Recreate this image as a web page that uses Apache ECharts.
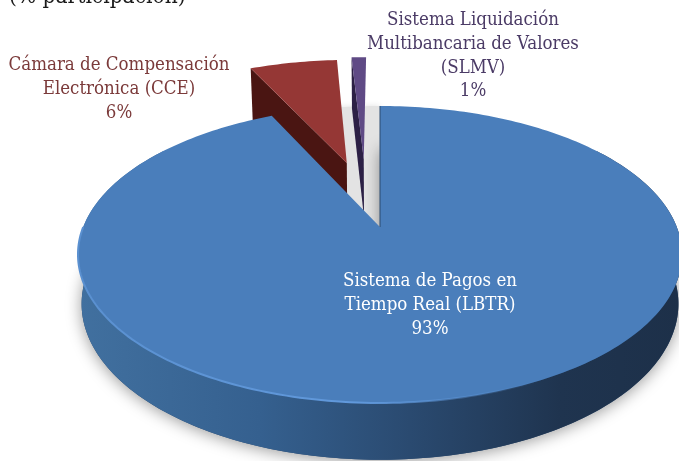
<!DOCTYPE html>
<html>
<head>
<meta charset="utf-8">
<script src="https://cdn.jsdelivr.net/npm/echarts@6/dist/echarts.min.js"></script>
<style>
html, body { margin: 0; background: #fff; }
#chart { width: 679px; height: 461px; }
</style>
</head>
<body>
<div id="chart"></div>
<script>
const titleText = '(% participación)'
const sliceNames = ['Sistema de Pagos en\nTiempo Real (LBTR)', 'Cámara de Compensación\nElectrónica (CCE)', 'Sistema Liquidación\nMultibancaria de Valores\n(SLMV)']
const sliceValues = [93, 6, 1]

// slice styles, same order as the values
const faceColors = ['#4a7ebb', '#953735', '#5f4a85']
const wallColors = ['#2a4a70', '#4a1512', '#2c2045']
const labelColors = ['#ffffff', '#7b3a3a', '#4b3b66']
const labelPos = [[430, 281], [119, 65], [473, 20]]
const explode = [[0, 0], [-0.122, 0.486], [-0.06, 0.517]]
const FONT = '18.5px "DejaVu Serif Condensed", "Liberation Serif", serif'

// perspective of the disc: apex on screen, then disc (u,v,z) to pixels
const cx = 380, cy = 227
const persp = 0.185, scaleX = 296.8, scaleY = 143.4
const project = (u, v, z) => {
  const w = 1 + persp * v
  const sx = scaleX * u / w * (1 - 0.012 * z)
  const sy = -scaleY * v / w * (1 + 0.05 * z) + 48 * z
  return [cx + sx, cy + sy]
}
const rimPoints = (a0, a1, off, z) => {
  const n = Math.max(2, Math.ceil((a1 - a0) / 0.02))
  const pts = []
  for (let i = 0; i <= n; i++) {
    const a = a0 + (a1 - a0) * i / n
    pts.push(project(Math.sin(a) + off[0], Math.cos(a) + off[1], z))
  }
  return pts
}
const sector = (a0, a1, off, z) => [project(off[0], off[1], z), ...rimPoints(a0, a1, off, z)]

const total = sliceValues.reduce((s, v) => s + v, 0)
const startOf = i => sliceValues.slice(0, i).reduce((s, v) => s + v, 0) / total * Math.PI * 2

const poly = (points, style, z2) => ({ type: 'polygon', shape: { points }, style, z2 })

const renderItem = (params, api) => {
  const i = params.dataIndex
  const a0 = startOf(i)
  const a1 = a0 + api.value(0) / total * Math.PI * 2
  const off = explode[i]
  const children = []

  if (i === 0) {
    const sideFill = {
      type: 'linear', x: 80, y: 0, x2: 680, y2: 0, global: true,
      colorStops: [
        { offset: 0, color: '#41709f' },
        { offset: 0.3, color: '#35608f' },
        { offset: 0.55, color: '#2a4a70' },
        { offset: 0.8, color: '#1f344f' },
        { offset: 1, color: '#1d3049' }
      ]
    }
    const rimFill = {
      type: 'linear', x: 78, y: 0, x2: 540, y2: 0, global: true,
      colorStops: [
        { offset: 0, color: '#5a90d0' },
        { offset: 0.6, color: '#6199dc' },
        { offset: 1, color: 'rgba(97,153,220,0)' }
      ]
    }
    // grey gap left behind by the pulled out slices
    children.push(poly(sector(a1, Math.PI * 2, [0, 0], 0), { fill: '#e3e3e3', shadowBlur: 6, shadowColor: 'rgba(0,0,0,0.12)' }, 0))
    // base with soft ground shadow
    children.push(poly(sector(a0, a1, off, 1), { fill: '#2a4a70', shadowBlur: 16, shadowColor: 'rgba(0,0,0,0.4)', shadowOffsetY: 2 }, 1))
    const front = rimPoints(Math.PI * 0.3, Math.PI * 1.7, off, 0)
    const back = rimPoints(Math.PI * 0.3, Math.PI * 1.7, off, 1).reverse()
    children.push(poly([...front, ...back], { fill: sideFill }, 2))
    children.push(poly(sector(a0, a1, off, 0), { fill: faceColors[i] }, 6))
    // light rim along the front edge
    children.push({
      type: 'polyline',
      shape: { points: rimPoints(Math.PI * 0.85, Math.PI * 1.5, off, 0) },
      style: { fill: null, stroke: rimFill, lineWidth: 2 },
      z2: 7
    })
    children.push({
      type: 'polyline',
      shape: { points: [project(0, 0, 0), project(0, 1, 0)] },
      style: { fill: null, stroke: wallColors[i], lineWidth: 1 },
      z2: 7
    })
  } else {
    // left cut wall, then the face
    const wallDepth = 1.3
    const wall = [project(off[0], off[1], 0), project(off[0], off[1], wallDepth),
      project(Math.sin(a0) + off[0], Math.cos(a0) + off[1], wallDepth), project(Math.sin(a0) + off[0], Math.cos(a0) + off[1], 0)]
    children.push(poly(wall, { fill: wallColors[i] }, 2 + i))
    children.push(poly(sector(a0, a1, off, 0), { fill: faceColors[i] }, 3 + i))
  }

  children.push({
    type: 'text',
    z2: 10,
    style: {
      text: sliceNames[i] + '\n' + api.value(0) + '%',
      x: labelPos[i][0],
      y: labelPos[i][1] - 12,
      fill: labelColors[i],
      font: FONT,
      lineHeight: 23.9,
      align: 'center',
      verticalAlign: 'top'
    }
  })
  return { type: 'group', children }
}

const chart = echarts.init(document.getElementById('chart'), null, { renderer: 'canvas' })
chart.setOption({
  animation: false,
  backgroundColor: '#ffffff',
  graphic: [{
    type: 'text',
    style: { text: titleText, x: 9, y: -14, fill: '#1a1a1a', font: '22.5px "DejaVu Serif Condensed", "Liberation Serif", serif' }
  }],
  series: [{
    type: 'custom',
    coordinateSystem: 'none',
    renderItem,
    data: sliceValues.map(v => [v]),
    silent: true
  }]
})
</script>
</body>
</html>
